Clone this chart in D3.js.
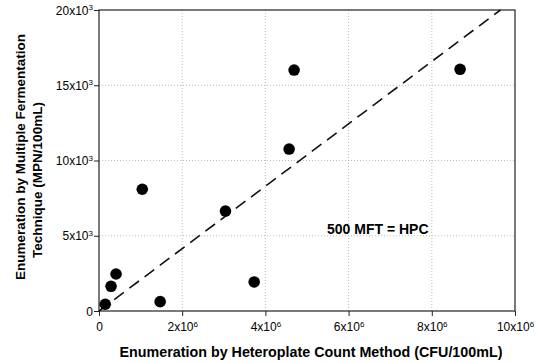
<!DOCTYPE html>
<html>
<head>
<meta charset="utf-8">
<script src="https://cdn.jsdelivr.net/npm/d3@7"></script>
<style>
  body { margin: 0; background: #fff; }
  text { font-family: "Liberation Sans", Arial, sans-serif; fill: #000; }
</style>
</head>
<body>
<div id="chart"></div>
<script>
const width = 539;
const height = 363;

// HPC (CFU/100mL) vs MFT (MPN/100mL)
const hpc = [0.15e6, 0.29e6, 0.41e6, 1.04e6, 1.47e6, 3.04e6, 3.73e6, 4.57e6, 4.69e6, 8.68e6];
const mft = [0.45e3, 1.64e3, 2.46e3, 8.09e3, 0.62e3, 6.64e3, 1.93e3, 10.76e3, 16.01e3, 16.06e3];

const xTicks = [0, 2e6, 4e6, 6e6, 8e6, 10e6];
const yTicks = [0, 5e3, 10e3, 15e3, 20e3];

// dashed reference line "500 MFT = HPC"
const lineX = [0, 9.65e6];
const lineY = [0, 20e3];

const margin = { left: 99, right: 24, top: 10, bottom: 52 };

const svg = d3.select("#chart").append("svg")
  .attr("width", width)
  .attr("height", height);

const x = d3.scaleLinear().domain([0, 10e6]).range([margin.left, width - margin.right]);
const y = d3.scaleLinear().domain([0, 20e3]).range([height - margin.bottom, margin.top]);

// grid
svg.append("g")
  .selectAll("line")
  .data(xTicks.slice(1, -1))
  .join("line")
  .attr("x1", d => x(d)).attr("x2", d => x(d))
  .attr("y1", y(0)).attr("y2", y(20e3))
  .attr("stroke", "#aaa").attr("stroke-width", 0.8)
  .attr("stroke-dasharray", "1,2");

svg.append("g")
  .selectAll("line")
  .data(yTicks.slice(1, -1))
  .join("line")
  .attr("x1", x(0)).attr("x2", x(10e6))
  .attr("y1", d => y(d)).attr("y2", d => y(d))
  .attr("stroke", "#aaa").attr("stroke-width", 0.8)
  .attr("stroke-dasharray", "1,2");

// frame
svg.append("rect")
  .attr("x", x(0)).attr("y", y(20e3))
  .attr("width", x(10e6) - x(0)).attr("height", y(0) - y(20e3))
  .attr("fill", "none").attr("stroke", "#222").attr("stroke-width", 1.2);

// sup formatter: "20x10³"
function tickLabel(sel, d, exp, power) {
  if (d === 0) { sel.text("0"); return; }
  sel.text("");
  sel.append("tspan").text(d / Math.pow(10, power) + "x10");
  sel.append("tspan").attr("dy", -4.5).attr("font-size", 8).text(exp);
}

const xAxis = svg.append("g")
  .attr("transform", `translate(0,${y(0)})`)
  .call(d3.axisBottom(x).tickValues(xTicks).tickSize(5).tickFormat(""));
xAxis.select(".domain").remove();
xAxis.selectAll("line").attr("stroke", "#222");
xAxis.selectAll(".tick text").remove();
xAxis.selectAll(".tick").append("text")
  .attr("y", 20).attr("text-anchor", "middle").attr("font-size", 12)
  .each(function(d) { tickLabel(d3.select(this), d, "6", 6); });

const yAxis = svg.append("g")
  .attr("transform", `translate(${x(0)},0)`)
  .call(d3.axisLeft(y).tickValues(yTicks).tickSize(5).tickFormat(""));
yAxis.select(".domain").remove();
yAxis.selectAll("line").attr("stroke", "#222");
yAxis.selectAll(".tick").append("text")
  .attr("x", -6).attr("dy", "0.35em").attr("text-anchor", "end").attr("font-size", 12)
  .each(function(d) { tickLabel(d3.select(this), d, "3", 3); });

// reference line
svg.append("path")
  .datum(d3.zip(lineX, lineY))
  .attr("d", d3.line().x(d => x(d[0])).y(d => y(d[1])))
  .attr("fill", "none").attr("stroke", "#111").attr("stroke-width", 1.6)
  .attr("stroke-dasharray", "12,7");

// points
svg.append("g")
  .selectAll("circle")
  .data(d3.zip(hpc, mft))
  .join("circle")
  .attr("cx", d => x(d[0])).attr("cy", d => y(d[1]))
  .attr("r", 5.8).attr("fill", "#000");

svg.append("text")
  .attr("x", 327).attr("y", 234)
  .attr("font-size", 14).attr("font-weight", "bold")
  .text("500 MFT = HPC");

// axis titles
svg.append("text")
  .attr("x", 311).attr("y", 357)
  .attr("text-anchor", "middle").attr("font-size", 14.3).attr("font-weight", "bold")
  .text("Enumeration by Heteroplate Count Method (CFU/100mL)");

svg.append("text")
  .attr("transform", "translate(25,157) rotate(-90)")
  .attr("text-anchor", "middle").attr("font-size", 13.5).attr("font-weight", "bold")
  .text("Enumeration by Multiple Fermentation");

svg.append("text")
  .attr("transform", "translate(42,180) rotate(-90)")
  .attr("text-anchor", "middle").attr("font-size", 13.5).attr("font-weight", "bold")
  .text("Technique (MPN/100mL)");
</script>
</body>
</html>
